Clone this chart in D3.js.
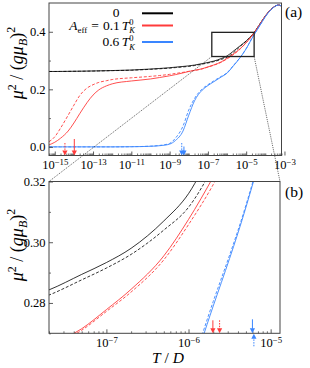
<!DOCTYPE html>
<html><head><meta charset="utf-8">
<script src="https://cdn.jsdelivr.net/npm/d3@7"></script>
<style>
body{margin:0;background:#fff}
svg{display:block}
text{font-family:'Liberation Serif','DejaVu Serif',serif;fill:#000}
</style>
</head><body><svg id="c" width="310" height="368"></svg>
<script>
// ---------------- data ----------------
const T = [5e-16,1e-15,2e-15,5e-15,1e-14,2e-14,5e-14,1e-13,2e-13,5e-13,1e-12,1e-11,1e-10,3e-10,1e-9,2e-9,5e-9,1e-8,2e-8,5e-8,1e-7,2e-7,5e-7,1e-6,2e-6,5e-6,1e-5,2e-5,5e-5,1e-4,2e-4,5e-4,7e-4];
const muZero     = [0.262,0.262,0.2622,0.2625,0.2628,0.263,0.2634,0.2638,0.2642,0.2648,0.2653,0.267,0.2705,0.2725,0.275,0.277,0.2795,0.2815,0.2843,0.2894,0.2933,0.298,0.307,0.316,0.331,0.352,0.368,0.388,0.425,0.455,0.478,0.493,0.489];
const muZeroDash = [0.262,0.262,0.2621,0.2624,0.2626,0.2628,0.2632,0.2635,0.2639,0.2644,0.2649,0.2664,0.2695,0.2714,0.2737,0.2755,0.2778,0.2798,0.2826,0.2876,0.2915,0.296,0.304,0.3115,0.325,0.35,0.367,0.388,0.425,0.455,0.478,0.493,0.489];
const muRed      = [0.007,0.016,0.03,0.055,0.083,0.115,0.155,0.18,0.198,0.212,0.219,0.229,0.236,0.241,0.247,0.251,0.257,0.262,0.266,0.2715,0.2778,0.2845,0.2955,0.3075,0.3215,0.342,0.362,0.386,0.424,0.455,0.478,0.493,0.489];
const muRedDash  = [0.018,0.035,0.065,0.11,0.145,0.178,0.205,0.216,0.224,0.23,0.234,0.24,0.245,0.248,0.252,0.255,0.259,0.2625,0.2655,0.271,0.2772,0.2836,0.2942,0.3058,0.319,0.341,0.362,0.386,0.424,0.455,0.478,0.493,0.489];
const muBlue     = [0,0,0,0,0,0,0,0,0,0,0,0.0005,0.002,0.004,0.0095,0.022,0.055,0.11,0.16,0.197,0.213,0.226,0.243,0.256,0.279,0.3115,0.341,0.377,0.42,0.452,0.477,0.493,0.489];
const muBlueDash = [0,0,0,0,0,0,0,0,0,0,0,0.0006,0.0025,0.005,0.012,0.03,0.072,0.128,0.168,0.201,0.216,0.229,0.245,0.2575,0.2805,0.3122,0.3415,0.3775,0.4205,0.452,0.477,0.493,0.489];

const xTicksA = [1e-15,1e-13,1e-11,1e-9,1e-7,1e-5,1e-3];
const xTicksB = [1e-7,1e-6,1e-5];
const yTicksA = [0.0,0.2,0.4];
const yTicksB = [0.28,0.30,0.32];
const zoomBox = {x0:1.6e-7, x1:2.6e-5, y0:0.314, y1:0.398};

// arrows: temperature scale markers
const arrowsA = [
  {T:3.4e-15, s:"red",  dash:true,  len:12.5, dir:"down"},
  {T:1.05e-14,s:"red",  dash:false, len:16.5, dir:"down"},
  {T:4.3e-9,  s:"blue", dash:true,  len:12.5, dir:"down"},
  {T:5.6e-9,  s:"blue", dash:false, len:9,    dir:"down"}
];
const arrowsB = [
  {T:1.98e-6, s:"red",  dash:false, len:13, dir:"down"},
  {T:2.39e-6, s:"red",  dash:true,  len:13, dir:"down"},
  {T:6.0e-6,  s:"blue", dash:false, len:14, dir:"down"},
  {T:6.25e-6, s:"blue", dash:true,  len:13, dir:"up"}
];

// ---------------- style ----------------
const FONT = "'Liberation Serif','DejaVu Serif',serif";
const NB = "\u00a0";
const COL = {black:"#000000", red:"#ff3b3b", blue:"#3a86ff"};
const series = [
  {v:muZero, c:"black", dash:false},
  {v:muZeroDash, c:"black", dash:true},
  {v:muRed, c:"red", dash:false},
  {v:muRedDash, c:"red", dash:true},
  {v:muBlue, c:"blue", dash:false},
  {v:muBlueDash, c:"blue", dash:true}
];

const svg = d3.select("#c");
const A = {l:49, r:281.5, t:3, b:155.5};
const B = {l:49, r:280, t:181.5, b:333.3};
const xA = d3.scaleLog().domain([5e-16, 7e-4]).range([A.l, A.r]);
const yA = d3.scaleLinear().domain([-0.03, 0.5]).range([A.b, A.t]);
const xB = d3.scaleLog().domain([2e-8, 1.3e-5]).range([B.l, B.r]);
const yB = d3.scaleLinear().domain([0.27, 0.32]).range([B.b, B.t]);

const defs = svg.append("defs");
[["clipA",A],["clipB",B]].forEach(([id,P])=>{
  defs.append("clipPath").attr("id",id).append("rect")
    .attr("x",P.l).attr("y",P.t).attr("width",P.r-P.l).attr("height",P.b-P.t);
});

function rich(parent, pieces, x, y, anchor, rotate){
  const g = parent.append("g");
  const inner = g.append("g");
  let cx = 0;
  pieces.forEach(p=>{
    const t = inner.append("text").attr("x",cx+(p.dx||0)).attr("y",p.dy||0)
      .attr("font-family",FONT)
      .attr("font-size",p.size||13.5).attr("font-style",p.it?"italic":"normal").text(p.t);
    const w = t.node().getComputedTextLength();
    if(!p.noAdv) cx += w + (p.dx||0);
  });
  const off = anchor==="end" ? -cx : anchor==="middle" ? -cx/2 : 0;
  inner.attr("transform",`translate(${off},0)`);
  g.attr("transform",`translate(${x},${y}) rotate(${rotate||0})`);
  return g;
}

function minorLog(scale, majors){
  const [d0,d1] = scale.domain();
  const out = [];
  for(let e=Math.floor(Math.log10(d0)); e<=Math.ceil(Math.log10(d1)); e++){
    for(let k=1;k<=9;k++){
      const v = k*Math.pow(10,e);
      if(v>=d0*0.999 && v<=d1*1.001 && !majors.some(m=>Math.abs(m-v)/m<1e-6)) out.push(v);
    }
  }
  return out;
}

function panel(P, x, y, clipId, xt, yt, yMinor, yFmt, arrows){
  const g = svg.append("g");
  const line = d3.line().x((d,i)=>x(T[i])).y(d=>y(d)).curve(d3.curveMonotoneX);
  const cg = g.append("g").attr("clip-path",`url(#${clipId})`);
  series.forEach(s=>{
    cg.append("path").attr("d",line(s.v)).attr("fill","none")
      .attr("stroke",COL[s.c]).attr("stroke-width",s.c==="black"?0.8:0.9)
      .attr("stroke-dasharray",s.dash?"3,1.8":null);
  });
  // ticks (inward)
  const xMaj = g.append("g").attr("transform",`translate(0,${P.b})`)
    .call(d3.axisBottom(x).tickValues(xt).tickSizeInner(-4).tickSizeOuter(0).tickPadding(4.6)
      .tickFormat(d=>d));
  xMaj.select(".domain").remove();
  xMaj.selectAll(".tick line").attr("stroke","#333").attr("stroke-width",0.8);
  xMaj.selectAll("text").attr("font-family",FONT).attr("font-size",12.5).each(function(d){
    const e = Math.round(Math.log10(d));
    const t = d3.select(this); t.text(null);
    t.append("tspan").text("10");
    t.append("tspan").attr("dy","-0.42em").attr("font-size","8.8px").text("\u2212"+Math.abs(e));
  });
  const xMin = g.append("g").attr("transform",`translate(0,${P.b})`)
    .call(d3.axisBottom(x).tickValues(minorLog(x,xt)).tickSizeInner(-2).tickSizeOuter(0).tickFormat(""));
  xMin.select(".domain").remove();
  xMin.selectAll(".tick line").attr("stroke","#333").attr("stroke-width",0.7);

  const yMaj = g.append("g").attr("transform",`translate(${P.l},0)`)
    .call(d3.axisLeft(y).tickValues(yt).tickSizeInner(-4).tickSizeOuter(0).tickPadding(3.5).tickFormat(d3.format(yFmt)));
  yMaj.select(".domain").remove();
  yMaj.selectAll(".tick line").attr("stroke","#333").attr("stroke-width",0.8);
  yMaj.selectAll("text").attr("font-family",FONT).attr("font-size",12.5);
  const yMin = g.append("g").attr("transform",`translate(${P.l},0)`)
    .call(d3.axisLeft(y).tickValues(yMinor).tickSizeInner(-2).tickSizeOuter(0).tickFormat(""));
  yMin.select(".domain").remove();
  yMin.selectAll(".tick line").attr("stroke","#333").attr("stroke-width",0.7);

  // frame
  g.append("rect").attr("x",P.l).attr("y",P.t).attr("width",P.r-P.l).attr("height",P.b-P.t)
    .attr("fill","none").attr("stroke","#444").attr("stroke-width",1);

  // arrows
  arrows.forEach(a=>{
    const ax = x(a.T), head = 5, hw = 2.6;
    const c = COL[a.s];
    if(a.dir==="down"){
      g.append("line").attr("x1",ax).attr("x2",ax).attr("y1",P.b-a.len).attr("y2",P.b-head+0.5)
        .attr("stroke",c).attr("stroke-width",1).attr("stroke-dasharray",a.dash?"1.5,1.2":null);
      g.append("path").attr("d",`M${ax-hw},${P.b-head}L${ax+hw},${P.b-head}L${ax},${P.b}Z`).attr("fill",c);
    } else {
      g.append("line").attr("x1",ax).attr("x2",ax).attr("y1",P.b+a.len).attr("y2",P.b+head)
        .attr("stroke",c).attr("stroke-width",1).attr("stroke-dasharray",a.dash?"1.5,1.2":null);
      g.append("path").attr("d",`M${ax-hw},${P.b+head+0.5}L${ax+hw},${P.b+head+0.5}L${ax},${P.b+0.5}Z`).attr("fill",c);
    }
  });
  return g;
}

const gA = panel(A, xA, yA, "clipA", xTicksA, yTicksA, [0.1,0.3], ".1f", arrowsA);
const gB = panel(B, xB, yB, "clipB", xTicksB, yTicksB, [0.27,0.29,0.31], ".2f", arrowsB);

// zoom rectangle and connectors
svg.append("rect").attr("x",xA(zoomBox.x0)).attr("y",yA(zoomBox.y1))
  .attr("width",xA(zoomBox.x1)-xA(zoomBox.x0)).attr("height",yA(zoomBox.y0)-yA(zoomBox.y1))
  .attr("fill","none").attr("stroke","#222").attr("stroke-width",1.3);
[[zoomBox.x0,B.l],[zoomBox.x1,B.r]].forEach(([xv,xb])=>{
  svg.append("line").attr("x1",xA(xv)).attr("y1",yA(zoomBox.y0)).attr("x2",xb).attr("y2",B.t)
    .attr("stroke","#333").attr("stroke-width",0.7).attr("stroke-dasharray","1.2,1");
});

// legend
const legend = [
  {c:"black", y:13.3, by:3.6, label:[{t:"0"}], right:119.5},
  {c:"red", y:25.5, by:4, label:[{t:"A",it:true},{t:"eff",size:9,dy:3},{t:"=",dx:4},{t:"0.1",dx:4},{t:"T",it:true,dx:2},{t:"0",size:8.5,dy:-5,noAdv:true},{t:"K",size:8.5,dy:3.5,it:true}], right:135},
  {c:"blue", y:42, by:4, label:[{t:"0.6"},{t:"T",it:true,dx:2.5},{t:"0",size:8.5,dy:-5,noAdv:true},{t:"K",size:8.5,dy:3.5,it:true}], right:135}
];
legend.forEach(L=>{
  svg.append("line").attr("x1",142).attr("x2",173).attr("y1",L.y).attr("y2",L.y)
    .attr("stroke",COL[L.c]).attr("stroke-width",2);
  rich(svg, L.label, L.right, L.y+L.by, "end");
});

// axis labels
const ylab = [{t:"\u03bc",it:true,size:18},{t:"2",size:12,dy:-7.5},{t:NB+"/"+NB,size:18},{t:"(",size:18},{t:"g",it:true,size:18},{t:"\u03bc",it:true,size:18},{t:"B",it:true,size:12,dy:4},{t:")",size:18},{t:"2",size:12,dy:-8}];
rich(svg, ylab, 23, 63, "middle", -90);
rich(svg, ylab, 23, 245, "middle", -90);
rich(svg, [{t:"T",it:true,size:15.5},{t:NB+"/"+NB,size:15.5},{t:"D",it:true,size:15.5}], 168, 362.5, "middle");
rich(svg, [{t:"(a)",size:15.5}], 285, 17, "start");
rich(svg, [{t:"(b)",size:15.5}], 285, 197, "start");
</script>
</body></html>
